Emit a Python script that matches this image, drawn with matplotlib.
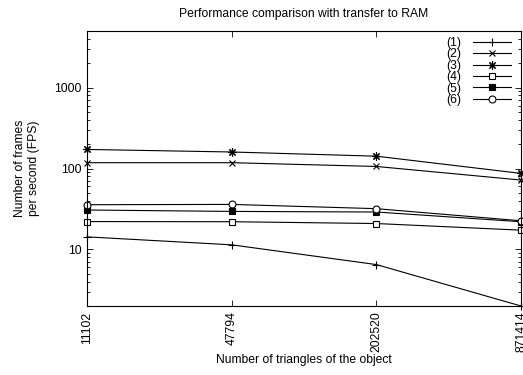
import matplotlib
matplotlib.use("Agg")
import matplotlib.pyplot as plt
from matplotlib.ticker import FixedLocator, NullFormatter, LogLocator

plt.rcParams['font.family'] = ['Liberation Sans', 'DejaVu Sans']

# Numero de triangulos (categorias del eje x)
triangulos = ['11102', '47794', '202520', '871414']

# FPS por configuracion
fps_1 = [14.3, 11.4, 6.5, 2.0]
fps_2 = [118, 118, 106, 72]
fps_3 = [172, 160, 142, 87]
fps_4 = [22.1, 22.0, 20.9, 17.3]
fps_5 = [30.7, 29.5, 29.0, 22.0]
fps_6 = [35.7, 36.0, 31.9, 22.6]

series = [fps_1, fps_2, fps_3, fps_4, fps_5, fps_6]
etiquetas = ['(1)', '(2)', '(3)', '(4)', '(5)', '(6)']
marcadores = [
    dict(marker='+', mfc='black', ms=6),
    dict(marker='x', mfc='black', ms=5),
    dict(marker=(8, 2, 0), mfc='black', ms=6),
    dict(marker='s', mfc='white', ms=5),
    dict(marker='s', mfc='black', ms=5),
    dict(marker='o', mfc='white', ms=5),
]

fs = 8.7

fig = plt.figure(figsize=(5.23, 3.75), dpi=100)
ax = fig.add_axes([0.1663, 0.184, 0.9962 - 0.1663, 0.9173 - 0.184])

x = list(range(len(triangulos)))
for valores, etiqueta, m in zip(series, etiquetas, marcadores):
    ax.plot(x, valores, color='black', lw=0.8, mec='black', mew=0.8,
            label=etiqueta, clip_on=False, **m)

ax.set_yscale('log')
ax.set_ylim(2, 5000)
ax.set_xlim(0, 3)
ax.yaxis.set_major_locator(FixedLocator([10, 100, 1000]))
ax.set_yticklabels(['10', '100', '1000'])
ax.yaxis.set_minor_locator(LogLocator(base=10, subs=range(2, 10)))
ax.yaxis.set_minor_formatter(NullFormatter())
ax.set_xticks(x)
ax.set_xticklabels(triangulos, rotation=90, va='top', ha='center')

ax.tick_params(which='both', direction='in', top=True, right=True, labelsize=fs, width=0.6)
ax.tick_params(which='major', length=4, pad=4)
ax.tick_params(which='minor', length=2)
for s in ax.spines.values():
    s.set_linewidth(0.8)

ax.set_title('Performance comparison with transfer to RAM', fontsize=fs, pad=10)
ax.set_xlabel('Number of triangles of the object', fontsize=fs, labelpad=1)
ax.set_ylabel('Number of frames\nper second (FPS)', fontsize=fs, labelpad=10)

ax.legend(loc='upper right', frameon=False, fontsize=fs, markerfirst=False,
          handlelength=3.1, labelspacing=-0.05, handletextpad=1.0,
          borderaxespad=0.1, bbox_to_anchor=(0.99, 1.0))

fig.savefig('out.png', dpi=100)
